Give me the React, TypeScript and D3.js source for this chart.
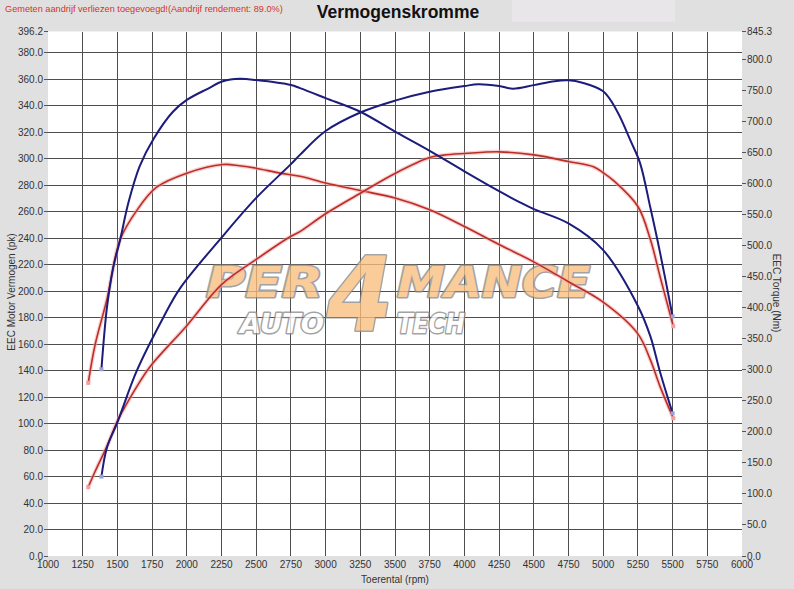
import React from "react";
import * as d3 from "d3";

// ---- data ----
const rpmTicks = [1000,1250,1500,1750,2000,2250,2500,2750,3000,3250,3500,3750,4000,4250,4500,4750,5000,5250,5500,5750,6000];
const leftTicks = [0,20,40,60,80,100,120,140,160,180,200,220,240,260,280,300,320,340,360,380,396.2];
const rightTicks = [0,50,100,150,200,250,300,350,400,450,500,550,600,650,700,750,800,845.3];

// tuned power (pk)
const rpmBluePower = [1385,1425,1500,1640,1830,1950,2250,2500,2750,2815,3000,3250,3500,3750,4000,4100,4250,4350,4500,4650,4750,4850,5000,5100,5200,5265,5340,5410,5500];
const bluePower = [60,82,101,140,180,202,240.5,270.5,296,303,321,335,344,350.7,355,356.3,355,353,355.7,358.7,359.3,357.5,351,336,313,297,263,229,181];

// stock power (pk)
const rpmRedPower = [1290,1340,1425,1500,1540,1640,1735,2000,2250,2500,2750,2815,3000,3250,3500,3750,3850,4000,4250,4500,4750,4930,5000,5070,5250,5340,5410,5505];
const redPower = [52,64,83,102,110,128,143,174,205,224,241.5,245,258.5,274,289,301,302.8,304,305.3,303,298,294,289.5,284,264,239,211,173.5];

// tuned torque (Nm)
const rpmBlueTorque = [1385,1425,1470,1520,1580,1660,1760,1900,2000,2150,2260,2380,2500,2750,2815,3000,3250,3500,3750,4000,4250,4400,4500,4750,5000,5250,5340,5410,5500];
const blueTorque = [301,401,465,510,570,628,672,716,735,753,765,769,767,759,754,738,716,684,653,620,588,570,559,536,493,403,354,296,230];

// stock torque (Nm)
const rpmRedTorque = [1290,1340,1425,1520,1640,1780,2000,2260,2380,2500,2670,2815,3000,3250,3500,3750,4000,4250,4500,4750,5000,5250,5340,5410,5505];
const redTorque = [279,341,414,510,557,594,617,631,629,625,617,612,601,589,577,558,531,502,474,442,409,358,316,273,222];

const W = 794, H = 589;
const PL = 48, PR = 742, PT = 31.5, PB = 556;

export default function App() {
  const x = d3.scaleLinear().domain([1000, 6000]).range([PL, PR]);
  const yL = d3.scaleLinear().domain([0, 396.2]).range([PB, PT]);
  const yR = d3.scaleLinear().domain([0, 845.3]).range([PB, PT]);

  const mk = (rpms: number[], vals: number[], y: d3.ScaleLinear<number, number>) => {
    const pts: [number, number][] = rpms.map((r, i) => [x(r), y(vals[i])]);
    return { d: d3.line().curve(d3.curveCatmullRom.alpha(0.5))(pts) || "", first: pts[0], last: pts[pts.length - 1] };
  };

  const series = [
    { ...mk(rpmRedTorque, redTorque, yR), color: "#bb2e28", halo: true },
    { ...mk(rpmRedPower, redPower, yL), color: "#bb2e28", halo: true },
    { ...mk(rpmBlueTorque, blueTorque, yR), color: "#1c1c7c", halo: false },
    { ...mk(rpmBluePower, bluePower, yL), color: "#1c1c7c", halo: false },
  ];

  const font = "'Liberation Sans', Arial, sans-serif";
  const wmStyle = { fontFamily: "'DejaVu Sans', sans-serif", fontWeight: 700, fontStyle: "italic" as const };

  return (
    <div style={{ position: "absolute", left: 0, top: 0 }}>
      <svg width={W} height={H} style={{ display: "block" }}>
        <rect x={0} y={0} width={W} height={H} fill="#e0e0e0" />
        <rect x={512} y={0} width={163} height={22} fill="#e8e6e8" />
        <text x={5} y={12} fontFamily={font} fontSize={9.2} fill="#d8302c">
          Gemeten aandrijf verliezen toegevoegd!(Aandrijf rendement: 89.0%)
        </text>
        <text x={398} y={18} textAnchor="middle" fontFamily={font} fontSize={17.5} fontWeight={700} fill="#111">
          Vermogenskromme
        </text>

        <rect x={PL} y={PT} width={PR - PL} height={PB - PT} fill="#ffffff" />

        {/* grid */}
        <g stroke="#4e4e4e" strokeWidth={1} shapeRendering="crispEdges">
          {rpmTicks.slice(1, -1).map((r) => (
            <line key={"v" + r} x1={x(r)} x2={x(r)} y1={PT} y2={PB} />
          ))}
          {leftTicks.slice(1, -1).map((v) => (
            <line key={"h" + v} x1={PL} x2={PR} y1={yL(v)} y2={yL(v)} />
          ))}
        </g>

        {/* watermark */}
        <g opacity={0.78} stroke="#8a8a8a" strokeWidth={3} strokeLinejoin="round" style={{ paintOrder: "stroke" }}>
          <text x={206} y={297} fontSize={42} fill="#f9be7e" textLength={117} lengthAdjust="spacingAndGlyphs" {...wmStyle}>PER</text>
          <text x={397} y={297} fontSize={42} fill="#f9be7e" textLength={193} lengthAdjust="spacingAndGlyphs" {...wmStyle}>MANCE</text>
          <text x={240} y={333} fontSize={27} fill="#ffffff" textLength={84} lengthAdjust="spacingAndGlyphs" {...wmStyle}>AUTO</text>
          <text x={397} y={333} fontSize={27} fill="#ffffff" textLength={68} lengthAdjust="spacingAndGlyphs" {...wmStyle}>TECH</text>
          <text x={327} y={331} fontSize={104} fill="#f9be7e" textLength={66} lengthAdjust="spacingAndGlyphs" {...wmStyle}>4</text>
        </g>

        {/* curves */}
        {series.map((s, i) => (
          <g key={i}>
            {s.halo && <path d={s.d} fill="none" stroke="#f4a8a8" strokeOpacity={0.55} strokeWidth={4} />}
            <path d={s.d} fill="none" stroke={s.color} strokeWidth={s.halo ? 1.6 : 2} />
            {[s.first, s.last].map((p, j) => (
              <rect key={j} x={p[0] - 2} y={p[1] - 2} width={4} height={4}
                fill={s.halo ? "#f0a0a0" : "#9aa0d0"} />
            ))}
          </g>
        ))}

        {/* axes */}
        <g fontFamily={font} fontSize={10} fill="#333">
          {leftTicks.map((v) => (
            <g key={"l" + v}>
              <line x1={44} x2={PL} y1={yL(v)} y2={yL(v)} stroke="#555" shapeRendering="crispEdges" />
              <text x={43} y={yL(v) + 3.5} textAnchor="end">{v.toFixed(1)}</text>
            </g>
          ))}
          {rightTicks.map((v) => (
            <g key={"r" + v}>
              <line x1={PR} x2={PR + 4} y1={yR(v)} y2={yR(v)} stroke="#555" shapeRendering="crispEdges" />
              <text x={PR + 5} y={yR(v) + 3.5} textAnchor="start">{v.toFixed(1)}</text>
            </g>
          ))}
          {rpmTicks.map((r) => (
            <text key={"b" + r} x={x(r)} y={568} textAnchor="middle">{r}</text>
          ))}
          <text x={395} y={583} textAnchor="middle">Toerental (rpm)</text>
          <text transform={`translate(15,292) rotate(-90)`} textAnchor="middle">EEC Motor Vermogen (pk)</text>
          <text transform={`translate(773,293) rotate(90)`} textAnchor="middle">EEC Torque (Nm)</text>
        </g>
      </svg>
    </div>
  );
}
